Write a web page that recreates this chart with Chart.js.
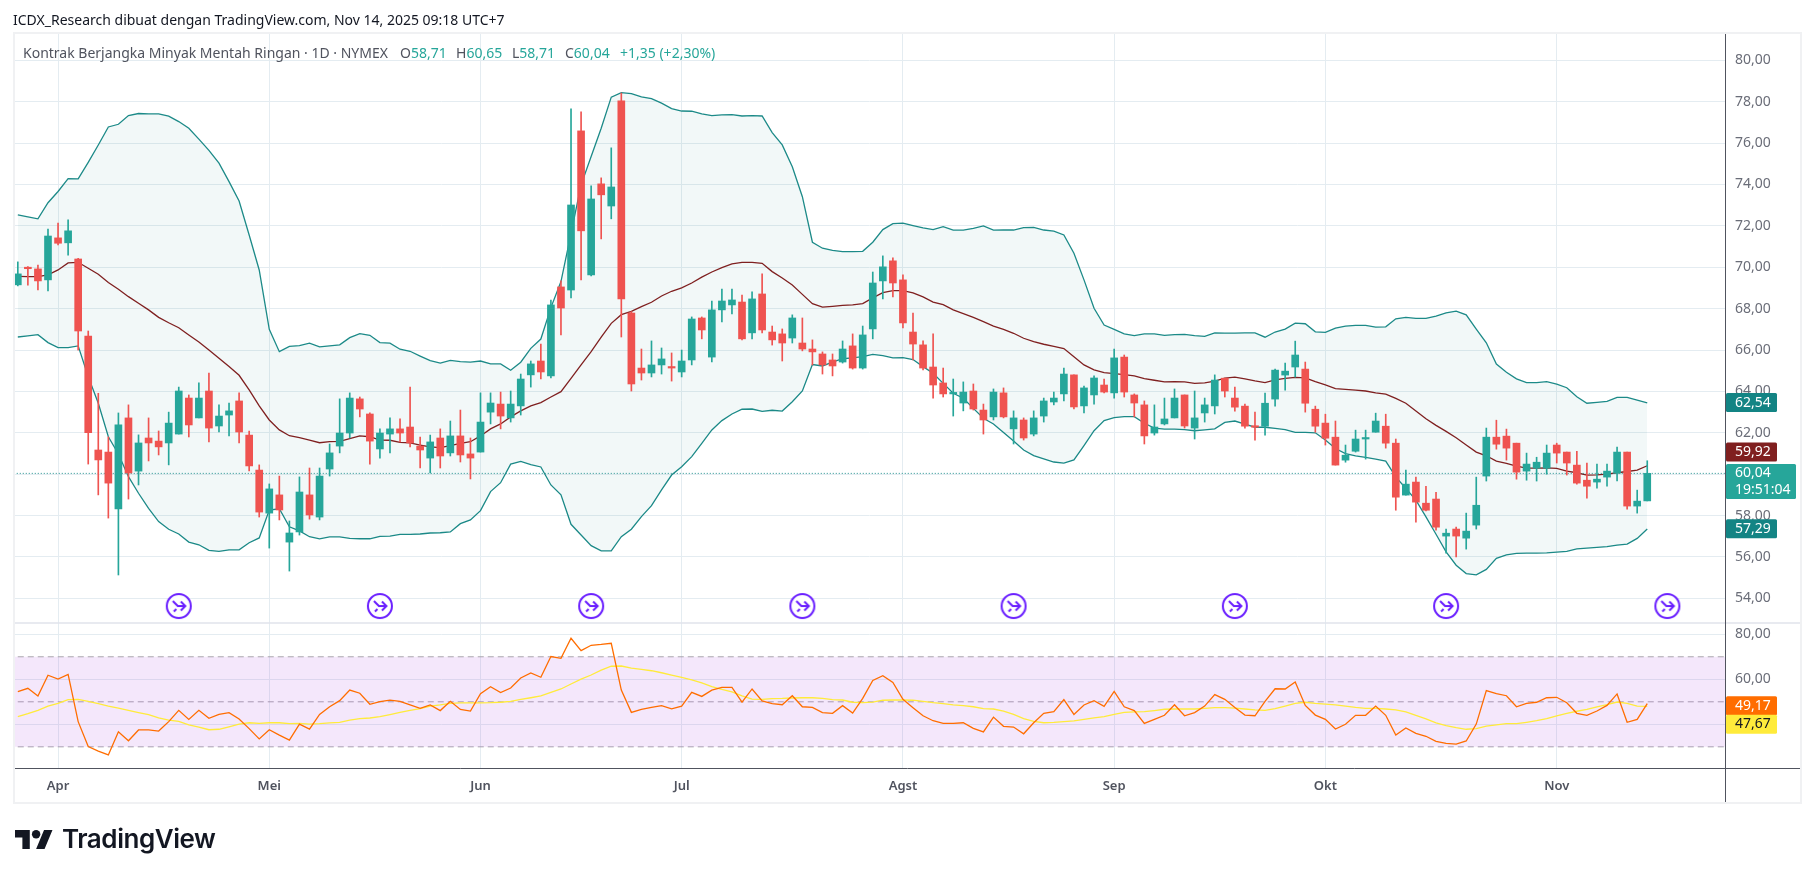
<!DOCTYPE html>
<html lang="id">
<head>
<meta charset="utf-8">
<title>Kontrak Berjangka Minyak Mentah Ringan</title>
<script src="https://cdn.jsdelivr.net/npm/chart.js@4/dist/chart.umd.min.js"></script>
<style>
  html, body { margin: 0; padding: 0; background: #fff; overflow: hidden; }
  #wrap { position: relative; width: 1814px; height: 878px; font-family: "Noto Sans", sans-serif; }
  canvas { position: absolute; left: 0; top: 0; }
  .txt { position: absolute; white-space: nowrap; font-size: 14px; line-height: 18px; }
  #credit { left: 13px; top: 11px; color: #131722; }
  #legend { left: 23px; top: 44px; color: #50535e; }
  #legend span { position: absolute; top: 0; }
  #legend b { font-weight: 400; color: #26a69a; }
  #logo { position: absolute; left: 15px; top: 830px; width: 38px; height: 19px; }
  #brand { position: absolute; left: 62px; top: 823px; font: 600 26px/32px Inter, sans-serif; color: #131722; letter-spacing: -0.45px; }
</style>
</head>
<body>
<div id="wrap">
  <canvas id="chart" width="1814" height="878"></canvas>
  <div class="txt" id="credit">ICDX_Research dibuat dengan TradingView.com, Nov 14, 2025 09:18 UTC+7</div>
  <div class="txt" id="legend">
    <span style="left:0">Kontrak Berjangka Minyak Mentah Ringan · 1D · NYMEX</span>
    <span style="left:377px">O<b>58,71</b></span>
    <span style="left:433px">H<b>60,65</b></span>
    <span style="left:489px">L<b>58,71</b></span>
    <span style="left:542px">C<b>60,04</b></span>
    <span style="left:597px"><b>+1,35 (+2,30%)</b></span>
  </div>
  <svg id="logo" viewBox="0 4 36 18"><path fill="#131722" d="M14 22H7V11H0V4h14v18zM28 22h-8l7.5-18h8L28 22z"/><circle fill="#131722" cx="20" cy="8" r="4"/></svg>
  <div id="brand">TradingView</div>
</div>

<script>
// candles, one entry per trading day
const opens = [69.15,69.98,69.92,69.39,71.42,71.18,70.40,66.68,61.17,61.07,
  58.32,62.72,60.15,61.75,61.60,61.51,61.94,63.68,62.72,64.02,
  62.33,62.86,63.54,61.89,60.20,58.12,59.00,56.72,57.21,59.00,
  57.93,60.25,61.36,61.99,63.64,62.91,61.22,61.94,62.19,62.28,
  61.36,60.78,61.75,61.03,61.85,60.98,61.07,63.00,63.39,62.72,
  63.30,64.80,65.47,64.75,69.05,68.90,76.59,69.63,74.03,72.96,
  78.04,67.79,65.13,64.89,65.28,65.18,64.94,65.52,67.55,65.66,
  67.94,68.18,68.32,66.83,68.71,66.87,66.78,66.58,66.34,66.05,
  65.81,65.52,65.42,66.20,65.13,67.02,69.34,70.31,69.39,66.87,
  66.25,65.18,64.41,63.88,63.44,64.02,63.10,62.77,63.93,62.19,
  62.62,61.94,62.81,63.49,63.88,64.80,63.30,63.83,64.31,63.93,
  65.66,63.83,63.35,61.99,62.43,62.72,63.83,62.23,62.96,63.30,
  64.64,63.68,63.29,62.32,62.32,63.63,64.79,65.18,65.08,63.14,
  62.47,61.79,60.68,61.11,61.70,62.03,62.32,61.50,58.99,59.62,
  58.60,58.80,57.01,57.35,56.91,57.54,59.91,61.79,61.84,61.50,
  60.15,60.29,60.29,61.41,61.07,60.44,59.71,59.62,59.86,60.05,
  61.07,58.46,58.71];
const closes = [69.68,69.93,69.34,71.51,71.16,71.76,66.92,62.01,60.69,59.57,
  62.38,60.06,61.51,61.51,61.32,62.47,64.02,62.38,63.68,62.23,
  62.81,63.06,62.04,60.40,58.17,59.29,58.27,57.16,59.14,58.03,
  59.91,61.03,61.99,63.68,63.15,61.60,61.99,62.19,61.99,61.51,
  61.17,61.56,60.88,61.85,60.93,60.78,62.52,63.44,62.81,63.39,
  64.60,65.33,64.94,68.18,68.03,73.01,71.76,73.30,73.50,73.88,
  68.47,64.36,64.89,65.28,65.57,65.13,65.47,67.50,66.97,67.94,
  68.37,68.42,66.54,68.47,66.97,66.49,66.34,67.55,66.05,65.91,
  65.28,65.23,66.05,65.13,66.73,69.24,70.02,69.24,67.31,66.29,
  65.13,64.31,63.88,63.93,63.97,63.15,62.62,63.97,62.77,62.72,
  61.75,62.72,63.54,63.68,64.84,63.25,64.17,64.65,63.97,65.62,
  63.97,63.44,61.85,62.28,62.67,63.68,62.33,62.72,63.35,64.55,
  64.02,63.24,62.32,62.27,63.43,65.03,64.98,65.76,63.43,62.32,
  61.74,60.44,60.92,61.70,61.74,62.57,61.50,58.89,59.52,58.65,
  58.26,57.44,57.15,57.01,57.25,58.50,61.79,61.45,61.26,60.10,
  60.49,60.58,61.02,61.02,60.54,59.57,59.42,59.76,60.15,61.07,
  58.46,58.70,60.04];
const highs = [70.26,70.03,70.11,71.85,72.14,72.29,70.43,66.92,63.91,61.80,
  62.96,63.35,61.90,62.72,62.09,63.00,64.21,63.83,64.41,64.89,
  63.35,63.44,63.93,62.09,60.45,59.53,59.91,57.74,59.87,60.30,
  60.30,61.46,63.64,63.93,63.73,62.96,62.19,62.72,62.67,64.21,
  61.80,61.89,62.19,62.57,63.10,61.75,63.93,63.93,63.97,64.02,
  64.84,65.47,66.29,68.42,69.34,77.65,77.51,73.93,74.32,75.77,
  78.42,67.86,66.05,66.44,66.10,65.86,66.00,67.60,67.60,68.37,
  68.95,68.95,68.66,68.81,69.68,67.16,67.02,67.70,67.55,66.49,
  65.91,65.81,66.44,66.78,67.16,69.77,70.55,70.45,69.63,67.79,
  66.44,66.78,65.13,64.60,64.46,64.36,63.39,64.12,64.17,63.06,
  62.72,63.06,63.68,63.97,65.13,64.80,64.26,64.75,64.60,66.05,
  65.76,63.88,63.54,63.35,63.68,64.12,63.83,64.02,63.68,64.80,
  64.64,64.21,63.39,63.00,63.92,65.08,65.37,66.43,65.42,63.29,
  62.90,62.57,61.41,62.13,62.13,62.95,62.90,61.70,60.20,59.86,
  59.42,59.13,57.35,57.44,58.12,59.86,62.23,62.61,62.18,61.50,
  61.02,60.82,61.41,61.50,61.07,61.11,60.54,60.49,60.49,61.31,
  61.07,59.23,60.65];
const lows = [69.10,69.14,68.90,68.86,71.08,70.59,66.00,60.49,59.00,57.88,
  55.13,58.80,59.48,60.64,60.93,60.45,61.94,61.80,62.72,61.56,
  62.04,61.85,61.51,60.16,57.93,56.43,57.79,55.32,57.06,57.83,
  57.79,59.91,61.03,61.75,62.77,60.49,60.78,61.03,61.56,61.32,
  60.30,60.06,60.30,60.88,60.59,59.77,61.07,62.43,62.19,62.52,
  62.86,64.21,64.60,64.65,66.73,68.52,69.39,69.58,71.37,72.34,
  66.63,64.02,64.55,64.70,64.84,64.50,64.70,65.28,66.54,65.42,
  67.36,67.74,66.49,66.54,66.83,66.24,65.47,66.34,65.96,65.28,
  64.84,64.75,65.37,65.08,65.08,66.54,68.47,68.57,67.07,65.52,
  65.04,63.68,63.73,62.81,63.06,63.10,61.94,62.62,62.72,61.46,
  61.65,61.85,62.52,63.35,63.54,63.15,62.96,63.39,63.93,63.68,
  63.73,62.77,61.46,61.89,62.38,62.72,62.23,61.70,62.52,62.91,
  63.73,63.05,62.23,61.65,61.89,63.29,64.06,64.69,63.00,62.03,
  61.41,60.44,60.58,61.07,60.73,62.03,61.26,58.26,58.99,57.68,
  58.22,57.30,56.19,56.00,56.38,57.35,59.67,61.21,60.68,59.76,
  59.71,59.67,60.00,60.54,59.96,59.52,58.84,59.33,59.42,59.67,
  58.31,58.12,58.71];

// bollinger bands
const bbUpper = [72.53,72.43,72.34,73.12,73.66,74.28,74.27,75.07,75.91,76.78,
  76.91,77.33,77.43,77.41,77.41,77.30,77.04,76.72,76.19,75.65,
  75.03,74.14,73.20,71.56,69.87,67.00,65.92,66.18,66.21,66.33,
  66.15,66.20,66.25,66.60,66.79,66.71,66.36,66.33,66.04,65.94,
  65.71,65.49,65.37,65.50,65.44,65.42,65.47,65.33,65.33,65.02,
  65.41,66.08,66.53,68.05,69.31,71.64,73.98,75.35,76.72,78.22,
  78.44,78.39,78.23,78.15,77.93,77.67,77.55,77.54,77.41,77.33,
  77.36,77.38,77.31,77.33,77.31,76.51,75.91,74.86,73.41,71.21,
  70.92,70.82,70.76,70.76,70.77,71.21,71.82,72.11,72.13,72.01,
  71.90,71.82,71.96,71.79,71.79,71.88,72.00,71.79,71.80,71.80,
  71.92,71.93,71.80,71.75,71.56,70.68,69.39,68.02,67.21,67.00,
  66.78,66.70,66.78,66.78,66.71,66.74,66.76,66.70,66.66,66.83,
  66.82,66.82,66.83,66.83,66.62,66.87,67.01,67.30,67.27,66.88,
  66.85,67.06,67.16,67.19,67.19,67.11,67.12,67.51,67.58,67.53,
  67.53,67.64,67.80,67.88,67.70,67.01,66.35,65.32,64.93,64.61,
  64.43,64.43,64.47,64.35,64.18,63.74,63.43,63.47,63.52,63.71,
  63.71,63.58,63.45];
const bbBasis = [69.56,69.55,69.55,69.63,69.87,70.21,70.24,69.95,69.66,69.26,
  68.94,68.58,68.26,67.94,67.58,67.32,67.08,66.73,66.39,66.00,
  65.60,65.20,64.78,64.07,63.30,62.62,62.14,61.86,61.77,61.65,
  61.52,61.57,61.59,61.72,61.85,61.81,61.65,61.64,61.54,61.51,
  61.41,61.32,61.28,61.38,61.49,61.57,61.85,62.19,62.43,62.77,
  63.06,63.30,63.46,63.73,63.99,64.63,65.28,65.92,66.62,67.29,
  67.71,67.87,68.10,68.31,68.61,68.84,69.00,69.24,69.52,69.77,
  69.98,70.16,70.24,70.24,70.19,69.79,69.48,69.14,68.69,68.24,
  68.07,68.11,68.16,68.18,68.24,68.52,68.77,68.87,68.87,68.76,
  68.57,68.32,68.19,67.94,67.76,67.58,67.37,67.16,67.00,66.81,
  66.57,66.41,66.28,66.18,66.07,65.68,65.28,65.04,64.91,64.86,
  64.81,64.75,64.62,64.54,64.46,64.47,64.46,64.39,64.41,64.50,
  64.64,64.69,64.61,64.51,64.43,64.56,64.63,64.68,64.66,64.47,
  64.32,64.14,64.10,64.06,64.02,63.93,63.87,63.66,63.43,63.05,
  62.68,62.36,62.07,61.76,61.41,61.07,60.89,60.63,60.52,60.39,
  60.29,60.29,60.31,60.28,60.15,60.07,59.96,59.97,60.00,60.07,
  60.13,60.20,60.41];
const bbLower = [66.63,66.68,66.74,66.36,66.12,66.12,66.20,64.71,63.43,61.81,
  60.98,59.88,59.08,58.35,57.71,57.34,57.11,56.72,56.59,56.32,
  56.27,56.34,56.35,56.69,56.92,58.27,58.33,57.46,57.26,56.98,
  56.88,56.97,56.97,56.90,56.88,56.88,57.00,57.01,57.09,57.09,
  57.11,57.16,57.17,57.21,57.61,57.79,58.24,59.16,59.59,60.49,
  60.62,60.46,60.35,59.48,59.00,57.58,57.06,56.55,56.30,56.30,
  56.98,57.34,57.95,58.48,59.24,59.96,60.36,60.85,61.49,62.14,
  62.59,62.91,63.14,63.15,63.04,63.09,63.05,63.50,64.02,65.30,
  65.23,65.42,65.58,65.62,65.68,65.79,65.73,65.62,65.63,65.54,
  65.20,64.88,64.39,63.91,63.67,63.18,62.70,62.43,62.01,61.60,
  61.17,60.90,60.74,60.59,60.54,60.69,61.38,62.10,62.59,62.73,
  62.78,62.78,62.46,62.23,62.18,62.18,62.15,62.10,62.14,62.19,
  62.50,62.57,62.42,62.27,62.27,62.21,62.15,62.02,62.02,62.00,
  61.65,61.24,61.00,60.89,60.81,60.73,60.63,59.87,59.31,58.75,
  57.94,57.10,56.25,55.60,55.20,55.14,55.40,55.93,56.10,56.17,
  56.19,56.19,56.20,56.23,56.27,56.39,56.43,56.46,56.50,56.57,
  56.62,56.90,57.35];

// RSI pane
const rsiLine = [54.5,56.0,52.6,61.8,60.1,62.2,41.2,30.1,28.1,26.4,
  36.7,32.7,37.5,37.5,37.0,41.2,46.2,42.2,46.2,42.7,
  44.4,45.2,42.4,38.1,33.5,37.6,35.2,33.0,40.1,37.9,
  44.4,47.8,50.5,55.2,53.8,48.9,50.1,50.7,50.2,48.6,
  47.1,48.6,46.1,50.2,46.6,45.9,53.6,56.7,54.1,56.1,
  60.6,62.8,60.9,70.1,69.3,78.2,72.7,75.1,75.5,76.0,
  55.2,45.3,46.6,47.5,48.3,46.9,48.1,54.2,52.4,55.2,
  56.4,56.4,49.9,55.7,50.4,49.2,48.7,52.7,47.8,47.5,
  45.2,44.9,48.3,45.0,51.5,59.5,61.6,58.6,51.1,47.4,
  43.8,41.6,40.4,40.4,40.7,38.2,36.6,43.2,39.1,38.8,
  35.8,40.7,44.9,45.6,51.0,44.4,48.6,50.5,48.0,54.6,
  47.8,46.1,40.4,42.2,44.0,48.7,43.8,45.2,48.1,53.2,
  51.1,47.5,44.1,43.8,50.2,55.8,55.7,58.8,48.4,44.1,
  42.2,37.9,40.0,44.0,44.0,48.1,44.0,35.2,38.4,36.0,
  34.7,32.4,31.5,31.2,32.6,40.1,55.0,53.6,52.7,47.8,
  49.3,49.8,51.8,52.0,49.6,44.9,44.0,45.9,48.4,53.5,
  40.9,42.2,49.2];
const rsiMa = [43.4,44.7,46.2,48.1,49.3,51.0,51.1,50.2,49.2,48.1,
  47.2,46.2,45.2,44.3,42.9,41.9,41.3,39.8,38.8,37.6,
  37.8,38.9,40.1,40.7,40.4,40.7,40.7,40.3,40.4,40.1,
  40.3,40.6,40.9,41.9,42.5,42.8,43.4,44.3,45.3,46.2,
  47.0,48.1,48.6,49.3,49.5,49.5,49.5,49.6,49.8,50.2,
  51.1,51.8,52.6,54.2,55.7,57.9,60.1,61.9,64.1,65.8,
  65.9,65.0,64.4,63.8,62.9,61.9,60.9,59.7,58.4,56.7,
  55.5,54.4,52.6,51.2,51.1,51.4,51.5,51.7,51.8,51.8,
  51.5,51.0,50.8,49.8,49.6,49.9,50.7,50.8,50.8,50.7,
  50.2,49.6,49.2,48.6,48.3,47.8,47.0,46.8,45.9,44.4,
  42.5,41.3,40.7,40.9,41.2,41.5,42.2,42.9,43.4,44.4,
  45.3,45.5,45.6,46.1,46.7,46.8,46.8,46.8,47.1,47.4,
  47.4,47.2,46.8,46.4,46.2,47.0,48.1,49.3,49.8,49.3,
  49.0,48.6,48.1,47.5,47.1,47.1,46.8,46.4,45.5,44.0,
  42.4,40.6,39.4,38.5,37.8,38.1,39.2,39.8,40.3,40.3,
  40.9,41.6,42.5,43.8,44.9,45.8,46.6,47.7,48.7,49.9,
  49.3,48.1,48.0];

// axes
const monthBars = [4,25,46,66,88,109,130,153];
const monthNames = ["Apr","Mei","Jun","Jul","Agst","Sep","Okt","Nov"];
const priceTicks = [54,56,58,60,62,64,66,68,70,72,74,76,78,80];
const rsiTicks = [40,60,80];
const rsiLevels = [70,50,30];
const lastPrice = 60.04;
// bars that carry the purple event marker
const eventBars = [16,36,57,78,99,121,142,164];

// colours
const TEAL = "#26a69a", RED = "#ef5350", BAND = "#1c8a88", BASIS = "#7f2020";
const GRID = "#e4ecf1", AXIS = "#50535e", TEXT = "#6a6d78";

const xy = (arr) => arr.map((y, x) => ({ x, y }));
const comma = (v) => v.toFixed(2).replace(".", ",");
const candleColors = closes.map((c, i) => (c >= opens[i] ? TEAL : RED));
const flat = (v) => [{ x: -1, y: v }, { x: 171, y: v }];

// little round marker, drawn once and used as point style
function eventIcon() {
  const c = document.createElement("canvas");
  c.width = 30; c.height = 30;
  const g = c.getContext("2d");
  g.strokeStyle = "#6a1fff"; g.lineWidth = 2; g.fillStyle = "#fff";
  g.beginPath(); g.arc(15, 15, 12, 0, Math.PI * 2); g.fill(); g.stroke();
  g.beginPath();
  g.moveTo(9, 10); g.lineTo(14, 15); g.lineTo(21, 15);
  g.moveTo(17, 10.5); g.lineTo(21.5, 15); g.lineTo(17, 19.5);
  g.moveTo(10, 20.5); g.lineTo(12.5, 18);
  g.stroke();
  return c;
}

// boxes over the price axis: text, value it sits on, pane, colours, tall or not
const axisTags = [
  { text: ["62,54"], at: 63.46, pane: "y", bg: "#138484", fg: "#fff" },
  { text: ["59,92"], at: 61.07, pane: "y", bg: "#801f1f", fg: "#fff" },
  { text: ["60,04", "19:51:04"], at: 60.04, pane: "y", bg: TEAL, fg: "#fff", wide: true },
  { text: ["57,29"], at: 57.36, pane: "y", bg: "#138484", fg: "#fff" },
  { text: ["49,17"], at: 48.3, pane: "rsi", bg: "#ff6d00", fg: "#fff" },
  { text: ["47,67"], at: 40.0, pane: "rsi", bg: "#ffeb3b", fg: "#131722" },
];

const chrome = {
  id: "chrome",
  afterDraw(chart) {
    const g = chart.ctx, a = chart.chartArea;
    const R = 1801, B = 803;
    g.save();
    // pane separator and axis lines run out to the frame
    g.strokeStyle = "#e0e3eb"; g.lineWidth = 1.5;
    const sep = chart.scales.rsi.top;
    g.beginPath(); g.moveTo(a.left, sep); g.lineTo(R, sep); g.stroke();
    g.strokeStyle = AXIS; g.lineWidth = 1;
    g.beginPath();
    g.moveTo(a.left, a.bottom + 0.5); g.lineTo(R, a.bottom + 0.5);
    g.moveTo(a.right + 0.5, a.top); g.lineTo(a.right + 0.5, B);
    g.stroke();
    g.strokeStyle = "#f0f1f3"; g.lineWidth = 2;
    g.strokeRect(a.left, a.top, R - a.left, B - a.top);

    g.textBaseline = "middle"; g.textAlign = "left";
    g.font = '14px "Noto Sans", sans-serif';
    axisTags.forEach((t) => {
      const y = chart.scales[t.pane].getPixelForValue(t.at);
      const w = t.wide ? 70 : 51, h = t.wide ? 35 : 19;
      const top = t.wide ? y - 9.5 : y - h / 2;
      g.fillStyle = t.bg;
      g.beginPath(); g.roundRect(a.right + 1, top, w, h, 1.5); g.fill();
      g.fillStyle = t.fg;
      t.text.forEach((s, n) => g.fillText(s, a.right + 10, top + 9.5 + n * 17));
    });
    g.restore();
  },
};

new Chart(document.getElementById("chart"), {
  data: {
    datasets: [
      // candles: bodies above wicks
      { type: "bar", order: 0, data: closes.map((c, i) => ({ x: i, y: [opens[i], c] })), backgroundColor: candleColors, barThickness: 7, minBarLength: 1.5, grouped: false },
      { type: "bar", order: 1, data: highs.map((h, i) => ({ x: i, y: [lows[i], h] })), backgroundColor: candleColors, barThickness: 1, grouped: false },
      // bollinger
      { type: "line", order: 4, data: xy(bbUpper), borderColor: BAND, borderWidth: 1.3, pointRadius: 0, tension: 0, fill: { target: "+1", above: "rgba(19,132,132,0.055)", below: "rgba(19,132,132,0.055)" } },
      { type: "line", order: 4, data: xy(bbLower), borderColor: BAND, borderWidth: 1.3, pointRadius: 0, tension: 0 },
      { type: "line", order: 3, data: xy(bbBasis), borderColor: BASIS, borderWidth: 1.3, pointRadius: 0, tension: 0 },
      { type: "line", order: 2, data: flat(lastPrice), borderColor: "#1f8f8c", borderWidth: 1, borderDash: [1, 2], pointRadius: 0 },
      // event markers
      { type: "line", order: 2, showLine: false, data: eventBars.map((x) => ({ x, y: 53.63 })), pointStyle: eventIcon(), pointRadius: 13 },
      // rsi band, its levels, rsi and its average
      { type: "line", order: 8, yAxisID: "rsi", data: flat(rsiLevels[0]), borderColor: "#a9a6ad", borderWidth: 1, borderDash: [6, 4], pointRadius: 0, fill: { target: "+2", above: "rgba(156,39,220,0.11)", below: "rgba(156,39,220,0.11)" } },
      { type: "line", order: 8, yAxisID: "rsi", data: flat(rsiLevels[1]), borderColor: "#a9a6ad", borderWidth: 1, borderDash: [6, 4], pointRadius: 0 },
      { type: "line", order: 8, yAxisID: "rsi", data: flat(rsiLevels[2]), borderColor: "#a9a6ad", borderWidth: 1, borderDash: [6, 4], pointRadius: 0 },
      { type: "line", order: 7, yAxisID: "rsi", data: xy(rsiMa), borderColor: "#ffeb3b", borderWidth: 1.3, pointRadius: 0, tension: 0 },
      { type: "line", order: 6, yAxisID: "rsi", data: xy(rsiLine), borderColor: "#ff6d00", borderWidth: 1.3, pointRadius: 0, tension: 0 },
    ],
  },
  options: {
    responsive: false,
    animation: false,
    events: [],
    layout: { padding: { left: 12, right: 13, top: 33, bottom: 75 } },
    plugins: { legend: { display: false }, tooltip: { enabled: false } },
    scales: {
      x: {
        type: "linear",
        offset: false,
        min: -0.38,
        max: 169.73,
        afterBuildTicks(s) { s.ticks = monthBars.map((value) => ({ value })); },
        afterFit(s) { s.height = 35; },
        grid: { color: GRID, drawTicks: false, offset: false },
        border: { display: false },
        ticks: {
          autoSkip: false, maxRotation: 0, padding: 10, color: AXIS,
          font: { family: '"Noto Sans", sans-serif', size: 13, weight: "600" },
          callback: (v) => monthNames[monthBars.indexOf(v)],
        },
      },
      y: {
        position: "right",
        stack: "panes",
        stackWeight: 590,
        min: 52.81,
        max: 81.32,
        afterBuildTicks(s) { s.ticks = priceTicks.map((value) => ({ value })); },
        afterFit(s) { s.width = 76; },
        grid: { color: GRID, drawTicks: false },
        border: { display: false },
        ticks: { padding: 10, color: TEXT, font: { family: '"Noto Sans", sans-serif', size: 14 }, callback: comma },
      },
      rsi: {
        position: "right",
        stack: "panes",
        stackWeight: 145,
        min: 20.6,
        max: 85,
        afterBuildTicks(s) { s.ticks = rsiTicks.map((value) => ({ value })); },
        afterFit(s) { s.width = 76; },
        grid: { color: GRID, drawTicks: false },
        border: { display: false },
        ticks: { padding: 10, color: TEXT, font: { family: '"Noto Sans", sans-serif', size: 14 }, callback: comma },
      },
    },
  },
  plugins: [chrome],
});
</script>
</body>
</html>
